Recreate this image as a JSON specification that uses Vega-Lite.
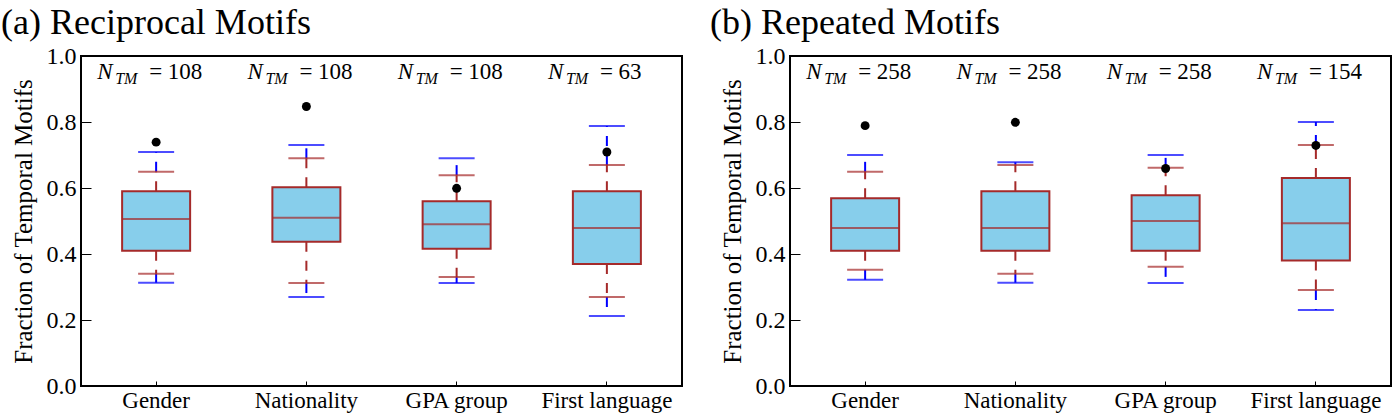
{
  "$schema": "https://vega.github.io/schema/vega-lite/v6.json",
  "background": "white",
  "padding": {"left": 0, "top": 4, "right": 0, "bottom": 0},
  "spacing": 26,
  "config": {
    "font": "Liberation Serif",
    "view": {"stroke": "black", "strokeWidth": 2},
    "axis": {"labelColor": "black", "titleColor": "black", "tickColor": "black", "domainColor": "black", "grid": false},
    "text": {"font": "Liberation Serif"},
    "title": {"fontWeight": "normal", "fontSize": 36, "anchor": "start", "color": "black"}
  },
  "datasets": {
    "rec": [
      {"cat": "Gender", "lo_out": 0.313, "lo_in": 0.340, "q1": 0.410, "med": 0.506, "q3": 0.590, "hi_in": 0.649, "hi_out": 0.709, "obs": 0.739, "nlabel": "= 108"},
      {"cat": "Nationality", "lo_out": 0.270, "lo_in": 0.312, "q1": 0.437, "med": 0.510, "q3": 0.602, "hi_in": 0.690, "hi_out": 0.730, "obs": 0.847, "nlabel": "= 108"},
      {"cat": "GPA group", "lo_out": 0.312, "lo_in": 0.330, "q1": 0.416, "med": 0.490, "q3": 0.560, "hi_in": 0.639, "hi_out": 0.690, "obs": 0.599, "nlabel": "= 108"},
      {"cat": "First language", "lo_out": 0.212, "lo_in": 0.270, "q1": 0.370, "med": 0.479, "q3": 0.590, "hi_in": 0.670, "hi_out": 0.788, "obs": 0.709, "nlabel": "= 63"}
    ],
    "rep": [
      {"cat": "Gender", "lo_out": 0.322, "lo_in": 0.352, "q1": 0.410, "med": 0.479, "q3": 0.569, "hi_in": 0.649, "hi_out": 0.700, "obs": 0.789, "nlabel": "= 258"},
      {"cat": "Nationality", "lo_out": 0.313, "lo_in": 0.340, "q1": 0.410, "med": 0.479, "q3": 0.590, "hi_in": 0.670, "hi_out": 0.678, "obs": 0.799, "nlabel": "= 258"},
      {"cat": "GPA group", "lo_out": 0.312, "lo_in": 0.361, "q1": 0.410, "med": 0.500, "q3": 0.578, "hi_in": 0.661, "hi_out": 0.700, "obs": 0.659, "nlabel": "= 258"},
      {"cat": "First language", "lo_out": 0.230, "lo_in": 0.291, "q1": 0.380, "med": 0.493, "q3": 0.630, "hi_in": 0.730, "hi_out": 0.800, "obs": 0.729, "nlabel": "= 154"}
    ]
  },
  "hconcat": [
    {
      "title": {"text": "(a) Reciprocal Motifs", "font": "Liberation Serif", "dx": -10, "offset": 2},
      "width": 601,
      "height": 330,
      "data": {"name": "rec"},
      "encoding": {
        "x": {"field": "cat", "type": "nominal", "sort": null,
              "scale": {"paddingInner": 0, "paddingOuter": 0},
              "axis": {"title": null, "labelFont": "Liberation Serif", "labelAngle": 0, "labelFontSize": 23, "tickSize": -5, "labelPadding": 8, "domain": false}}
      },
      "layer": [
        {"mark": {"type": "rule", "color": "#0000FF", "strokeWidth": 2, "strokeDash": [10, 9]},
         "encoding": {"y": {"field": "hi_in", "type": "quantitative", "scale": {"domain": [0, 1], "nice": false},
                            "axis": {"title": "Fraction of Temporal Motifs", "titleFont": "Liberation Serif", "labelFont": "Liberation Serif", "titleFontSize": 25, "titleFontWeight": "normal", "titlePadding": 10, "values": [0, 0.2, 0.4, 0.6, 0.8, 1.0], "format": ".1f", "labelFontSize": 24, "tickSize": -10, "labelPadding": 15, "labelFlush": false, "domain": false}},
                      "y2": {"field": "hi_out"}}},
        {"mark": {"type": "rule", "color": "#0000FF", "strokeWidth": 2, "strokeDash": [10, 9]},
         "encoding": {"y": {"field": "lo_in", "type": "quantitative"}, "y2": {"field": "lo_out"}}},
        {"mark": {"type": "rule", "color": "#A52A2A", "strokeWidth": 2, "strokeDash": [10, 9]},
         "encoding": {"y": {"field": "q3", "type": "quantitative"}, "y2": {"field": "hi_in"}}},
        {"mark": {"type": "rule", "color": "#A52A2A", "strokeWidth": 2, "strokeDash": [10, 9]},
         "encoding": {"y": {"field": "q1", "type": "quantitative"}, "y2": {"field": "lo_in"}}},
        {"mark": {"type": "tick", "color": "#0000FF", "size": 36, "thickness": 2, "orient": "horizontal"},
         "encoding": {"y": {"field": "hi_out", "type": "quantitative"}}},
        {"mark": {"type": "tick", "color": "#0000FF", "size": 36, "thickness": 2, "orient": "horizontal"},
         "encoding": {"y": {"field": "lo_out", "type": "quantitative"}}},
        {"mark": {"type": "tick", "color": "#A52A2A", "size": 36, "thickness": 2, "orient": "horizontal"},
         "encoding": {"y": {"field": "hi_in", "type": "quantitative"}}},
        {"mark": {"type": "tick", "color": "#A52A2A", "size": 36, "thickness": 2, "orient": "horizontal"},
         "encoding": {"y": {"field": "lo_in", "type": "quantitative"}}},
        {"mark": {"type": "bar", "width": 68, "fill": "#87CEEB", "stroke": "#A52A2A", "strokeWidth": 2},
         "encoding": {"y": {"field": "q1", "type": "quantitative"}, "y2": {"field": "q3"}}},
        {"mark": {"type": "tick", "color": "#A52A2A", "size": 68, "thickness": 2, "orient": "horizontal"},
         "encoding": {"y": {"field": "med", "type": "quantitative"}}},
        {"mark": {"type": "point", "filled": true, "color": "black", "size": 80, "opacity": 1},
         "encoding": {"y": {"field": "obs", "type": "quantitative"}}},
        {"mark": {"type": "text", "text": "N", "font": "Liberation Serif", "fontStyle": "italic", "fontSize": 23, "align": "left", "baseline": "alphabetic", "dx": -59, "color": "black"},
         "encoding": {"y": {"datum": 0.93, "type": "quantitative"}}},
        {"mark": {"type": "text", "text": "TM", "font": "Liberation Serif", "fontStyle": "italic", "fontSize": 16, "align": "left", "baseline": "alphabetic", "dx": -41, "dy": 5, "color": "black"},
         "encoding": {"y": {"datum": 0.93, "type": "quantitative"}}},
        {"mark": {"type": "text", "font": "Liberation Serif", "fontSize": 23, "align": "left", "baseline": "alphabetic", "dx": -7, "color": "black"},
         "encoding": {"y": {"datum": 0.93, "type": "quantitative"}, "text": {"field": "nlabel"}}}
      ]
    },
    {
      "title": {"text": "(b) Repeated Motifs", "font": "Liberation Serif", "dx": -10, "offset": 2},
      "width": 601,
      "height": 330,
      "data": {"name": "rep"},
      "encoding": {
        "x": {"field": "cat", "type": "nominal", "sort": null,
              "scale": {"paddingInner": 0, "paddingOuter": 0},
              "axis": {"title": null, "labelFont": "Liberation Serif", "labelAngle": 0, "labelFontSize": 23, "tickSize": -5, "labelPadding": 8, "domain": false}}
      },
      "layer": [
        {"mark": {"type": "rule", "color": "#0000FF", "strokeWidth": 2, "strokeDash": [10, 9]},
         "encoding": {"y": {"field": "hi_in", "type": "quantitative", "scale": {"domain": [0, 1], "nice": false},
                            "axis": {"title": "Fraction of Temporal Motifs", "titleFont": "Liberation Serif", "labelFont": "Liberation Serif", "titleFontSize": 25, "titleFontWeight": "normal", "titlePadding": 10, "values": [0, 0.2, 0.4, 0.6, 0.8, 1.0], "format": ".1f", "labelFontSize": 24, "tickSize": -10, "labelPadding": 15, "labelFlush": false, "domain": false}},
                      "y2": {"field": "hi_out"}}},
        {"mark": {"type": "rule", "color": "#0000FF", "strokeWidth": 2, "strokeDash": [10, 9]},
         "encoding": {"y": {"field": "lo_in", "type": "quantitative"}, "y2": {"field": "lo_out"}}},
        {"mark": {"type": "rule", "color": "#A52A2A", "strokeWidth": 2, "strokeDash": [10, 9]},
         "encoding": {"y": {"field": "q3", "type": "quantitative"}, "y2": {"field": "hi_in"}}},
        {"mark": {"type": "rule", "color": "#A52A2A", "strokeWidth": 2, "strokeDash": [10, 9]},
         "encoding": {"y": {"field": "q1", "type": "quantitative"}, "y2": {"field": "lo_in"}}},
        {"mark": {"type": "tick", "color": "#0000FF", "size": 36, "thickness": 2, "orient": "horizontal"},
         "encoding": {"y": {"field": "hi_out", "type": "quantitative"}}},
        {"mark": {"type": "tick", "color": "#0000FF", "size": 36, "thickness": 2, "orient": "horizontal"},
         "encoding": {"y": {"field": "lo_out", "type": "quantitative"}}},
        {"mark": {"type": "tick", "color": "#A52A2A", "size": 36, "thickness": 2, "orient": "horizontal"},
         "encoding": {"y": {"field": "hi_in", "type": "quantitative"}}},
        {"mark": {"type": "tick", "color": "#A52A2A", "size": 36, "thickness": 2, "orient": "horizontal"},
         "encoding": {"y": {"field": "lo_in", "type": "quantitative"}}},
        {"mark": {"type": "bar", "width": 68, "fill": "#87CEEB", "stroke": "#A52A2A", "strokeWidth": 2},
         "encoding": {"y": {"field": "q1", "type": "quantitative"}, "y2": {"field": "q3"}}},
        {"mark": {"type": "tick", "color": "#A52A2A", "size": 68, "thickness": 2, "orient": "horizontal"},
         "encoding": {"y": {"field": "med", "type": "quantitative"}}},
        {"mark": {"type": "point", "filled": true, "color": "black", "size": 80, "opacity": 1},
         "encoding": {"y": {"field": "obs", "type": "quantitative"}}},
        {"mark": {"type": "text", "text": "N", "font": "Liberation Serif", "fontStyle": "italic", "fontSize": 23, "align": "left", "baseline": "alphabetic", "dx": -59, "color": "black"},
         "encoding": {"y": {"datum": 0.93, "type": "quantitative"}}},
        {"mark": {"type": "text", "text": "TM", "font": "Liberation Serif", "fontStyle": "italic", "fontSize": 16, "align": "left", "baseline": "alphabetic", "dx": -41, "dy": 5, "color": "black"},
         "encoding": {"y": {"datum": 0.93, "type": "quantitative"}}},
        {"mark": {"type": "text", "font": "Liberation Serif", "fontSize": 23, "align": "left", "baseline": "alphabetic", "dx": -7, "color": "black"},
         "encoding": {"y": {"datum": 0.93, "type": "quantitative"}, "text": {"field": "nlabel"}}}
      ]
    }
  ]
}
